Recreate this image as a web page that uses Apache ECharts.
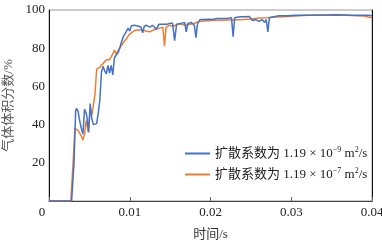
<!DOCTYPE html>
<html>
<head>
<meta charset="utf-8">
<script src="https://cdn.jsdelivr.net/npm/echarts@6/dist/echarts.min.js"></script>
<style>html,body{margin:0;padding:0;background:#fff}#c{width:382px;height:244px}</style>
</head>
<body>
<div id="c"></div>
<script>
var xTicks = [0, 0.01, 0.02, 0.03, 0.04];
var yTicks = [0, 20, 40, 60, 80, 100];
var seriesNames = ['扩散系数为 1.19 × 10^-9 m^2/s', '扩散系数为 1.19 × 10^-7 m^2/s'];
var blueData = [[0,0],[0.0028,0],[0.0031,20],[0.0033,47],[0.0034,48.5],[0.0036,47],[0.0038,42],[0.0040,38],[0.0042,35],[0.0044,48],[0.0046,46],[0.0047,44],[0.0049,36],[0.0051,51],[0.0053,43],[0.0055,40],[0.0057,40],[0.0059,40.5],[0.0061,46],[0.0063,53],[0.0065,67.5],[0.0067,70.5],[0.0069,68],[0.0071,66.5],[0.0073,71],[0.0075,67],[0.0077,71],[0.0079,66],[0.0081,75],[0.0083,76],[0.0086,78],[0.0088,79],[0.0090,83.5],[0.0092,86],[0.0094,87],[0.0096,89],[0.0098,90.5],[0.0100,89],[0.0102,91.8],[0.0104,91],[0.0106,92],[0.0108,91],[0.0111,91.5],[0.0114,91],[0.0116,88],[0.0118,91.5],[0.0121,92],[0.0125,91],[0.0128,92],[0.0130,91.5],[0.0133,90],[0.0136,92.5],[0.0138,93],[0.0142,92.5],[0.0146,92.5],[0.0150,93],[0.0153,93],[0.01556,84],[0.0158,92.5],[0.0163,93],[0.0168,93.5],[0.0170,88.6],[0.0172,93],[0.0176,93.5],[0.0180,92],[0.0182,85.5],[0.0184,93],[0.0187,95],[0.0192,95],[0.0197,95.2],[0.0202,95],[0.0208,95.5],[0.0214,95.5],[0.0220,95.6],[0.0226,96],[0.0228,86],[0.0230,96],[0.0236,96.5],[0.0242,96.5],[0.0248,96.6],[0.0252,94.5],[0.0256,95],[0.0260,94],[0.0264,95],[0.0267,93.5],[0.0269,95],[0.0271,88.5],[0.0273,96],[0.0278,96.5],[0.0285,97],[0.0295,97],[0.0305,97.2],[0.0315,97.3],[0.0325,97.3],[0.0335,97.4],[0.0345,97.4],[0.0355,97.5],[0.0365,97.4],[0.0375,97.3],[0.0385,97.2],[0.0395,97.2],[0.0400,97]];
var orangeData = [[0,0],[0.0027,0],[0.0030,21],[0.0032,38],[0.0034,38.5],[0.0036,37],[0.0038,36],[0.0040,34],[0.0042,32],[0.0043,31],[0.0044,35],[0.0046,42],[0.0047,43],[0.0049,36],[0.0051,48],[0.0053,45],[0.0055,46],[0.0057,56],[0.0059,69],[0.0061,68],[0.0063,70],[0.0065,71],[0.0067,72],[0.0069,73],[0.0071,74],[0.0073,75],[0.0075,74],[0.0077,73],[0.0079,77],[0.0081,79],[0.0083,77],[0.0086,79],[0.0088,80],[0.0090,81.5],[0.0092,83],[0.0094,84],[0.0096,85],[0.0099,87],[0.0102,88],[0.0105,89],[0.0108,89.5],[0.0112,89.5],[0.0116,89.5],[0.0120,89],[0.0125,88.6],[0.0129,89.5],[0.0133,90],[0.0137,90.5],[0.0141,91],[0.0143,81],[0.0145,91],[0.0149,92],[0.0154,91.5],[0.0158,92.3],[0.0162,92.6],[0.0166,92.3],[0.0170,92],[0.0174,92.5],[0.0178,92.8],[0.0182,93.3],[0.0186,94],[0.0192,94.3],[0.0200,94.5],[0.0210,94.6],[0.0220,94.7],[0.0230,94.8],[0.0240,95],[0.0250,95.3],[0.0260,95.8],[0.0270,96],[0.0280,96.3],[0.0290,96.5],[0.0300,96.7],[0.0310,97],[0.0320,97.2],[0.0330,97.3],[0.0340,97.3],[0.0350,97.2],[0.0360,97.3],[0.0370,97.2],[0.0380,97],[0.0390,96.8],[0.0395,96.3],[0.0400,96]];
var colors = ['#4472C4', '#ED7D31'];

var serif = '"Liberation Serif","Noto Sans CJK SC",serif';
var cjk = '"Liberation Serif","Noto Sans CJK SC",sans-serif';

function legendFmt(name) {
  var m = name.match(/^(.*× 10)\^(\S+) m\^(\d)(\/s)$/);
  return '{t|' + m[1] + '}{s|' + m[2].replace('-', '−') + '}{t| m}{s|' + m[3] + '}{t|' + m[4] + '}';
}

var chart = echarts.init(document.getElementById('c'), null, {renderer: 'canvas'});
chart.setOption({
  animation: false,
  color: colors,
  grid: {left: 49, right: 10, top: 10, bottom: 43, show: true, borderColor: '#9a9a9a', borderWidth: 1, containLabel: false, outerBoundsMode: 'none'},
  legend: {
    orient: 'vertical', left: 185, top: 146, padding: 0, itemWidth: 25, itemHeight: 12, itemGap: 7,
    icon: 'path://M0,5 L25,5 L25,7 L0,7 Z',
    formatter: legendFmt,
    textStyle: {
      fontFamily: cjk, fontSize: 13, color: '#222',
      rich: {
        t: {fontFamily: cjk, fontSize: 13, color: '#222'},
        s: {fontFamily: serif, fontSize: 8, color: '#222', padding: [0, 0, 7, 0]}
      }
    }
  },
  xAxis: {
    type: 'value', min: xTicks[0], max: xTicks[xTicks.length - 1], interval: 0.01,
    name: '时间/s', nameLocation: 'middle', nameGap: 27,
    nameTextStyle: {fontFamily: cjk, fontSize: 13, color: '#333'},
    axisLine: {show: true, lineStyle: {color: '#444', width: 1}},
    axisTick: {show: true, inside: true, length: 4, lineStyle: {color: '#666'}},
    splitLine: {show: false},
    axisLabel: {
      margin: 5, fontFamily: serif, fontSize: 13, color: '#222',
      formatter: function (v) { return v === 0 ? '{o|0}' : v.toFixed(2); },
      rich: {o: {fontFamily: serif, fontSize: 13, color: '#222', padding: [0, 14, 0, 0]}}
    }
  },
  yAxis: [{
    type: 'value', min: yTicks[0], max: yTicks[yTicks.length - 1], interval: 20,
    name: '气体体积分数/%', nameLocation: 'middle', nameGap: 24,
    nameTextStyle: {fontFamily: cjk, fontSize: 13, color: '#555'},
    axisLine: {show: true, lineStyle: {color: '#111', width: 1}},
    axisTick: {show: false},
    splitLine: {show: false},
    axisLabel: {
      margin: 4, fontFamily: serif, fontSize: 13, color: '#222',
      formatter: function (v) { return v === 0 ? '' : String(v); }
    }
  }, {
    type: 'value', min: 0, max: 100, position: 'right',
    axisLine: {show: true, lineStyle: {color: '#111', width: 1}},
    axisTick: {show: false}, axisLabel: {show: false}, splitLine: {show: false}
  }],
  series: [
    {name: seriesNames[0], type: 'line', data: blueData, showSymbol: false, symbol: 'none', lineStyle: {width: 1.5, color: colors[0]}, z: 3},
    {name: seriesNames[1], type: 'line', data: orangeData, showSymbol: false, symbol: 'none', lineStyle: {width: 1.5, color: colors[1]}, z: 2}
  ]
});
</script>
</body>
</html>
